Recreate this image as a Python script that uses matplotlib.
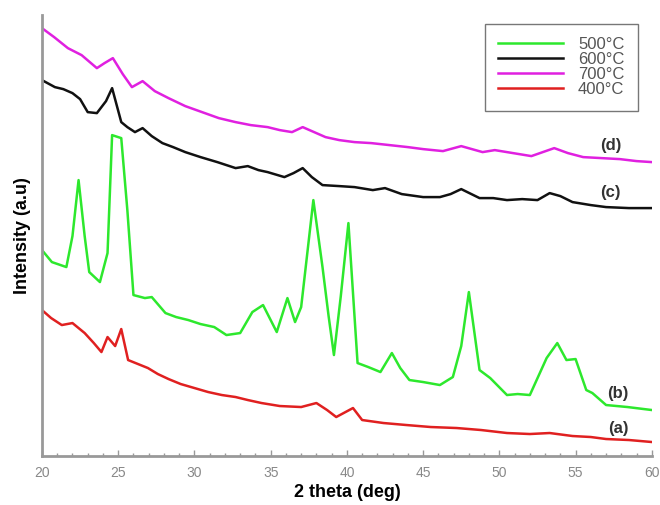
import matplotlib.pyplot as plt
import numpy as np

plt.rcParams['font.family'] = ['Liberation Sans', 'DejaVu Sans']

# 2-theta positions and intensities (arbitrary units)
x_700 = [20, 20.8, 21.7, 22.6, 23.6, 24.1, 24.65, 25.3, 25.9, 26.6, 27.4, 28.3, 29.4,
         30.5, 31.6, 32.7, 33.7, 34.8, 35.6, 36.4, 37.1, 38.6, 39.5, 40.5, 41.6,
         42.8, 44, 45, 46.3, 47.5, 48.9, 49.7, 50.5, 51.3, 52.1, 53.6, 54.5, 55.5,
         56.7, 57.9, 59, 60]
y_700 = [428, 419, 408, 401, 388, 393, 398, 382, 369, 375, 365, 358, 350,
         344, 338, 334, 331, 329, 326, 324, 329, 319, 316, 314, 313,
         311, 309, 307, 305, 310, 304, 306, 304, 302, 300, 308, 303, 299,
         298, 297, 295, 294]

x_600 = [20, 20.85, 21.4, 22, 22.5, 23, 23.6, 24.2, 24.6, 25.2, 25.6, 26.1, 26.6, 27.2,
         27.9, 28.6, 29.4, 30.4, 31.5, 32.7, 33.5, 34.2, 34.8, 35.9, 36.5, 37.1,
         37.7, 38.4, 39.5, 40.5, 41.7, 42.5, 43.6, 45, 46.1, 46.8, 47.5, 48.7,
         49.6, 50.5, 51.5, 52.5, 53.3, 54, 54.8, 56, 57, 58.5, 60]
y_600 = [376, 369, 367, 363, 357, 344, 343, 355, 368, 334, 329, 324, 328, 320,
         313, 309, 304, 299, 294, 288, 290, 286, 284, 279, 283, 288,
         279, 271, 270, 269, 266, 268, 262, 259, 259, 262, 267, 258,
         258, 256, 257, 256, 263, 260, 254, 251, 249, 248, 248]

x_500 = [20, 20.65, 21.6, 22.0, 22.4, 22.8, 23.1, 23.8, 24.3, 24.6, 25.2, 25.6, 26,
         26.75, 27.2, 28.1, 28.8, 29.6, 30.4, 31.3, 32.1, 33, 33.8, 34.5, 35.4,
         36.1, 36.6, 37.0, 37.8, 38.4, 38.8, 39.15, 39.6, 40.1, 40.7, 41.4, 42.2,
         42.95, 43.5, 44.1, 45, 46.1, 46.95, 47.5, 48.0, 48.7, 49.4, 50.5, 51.2,
         52, 53.1, 53.8, 54.4, 55, 55.7, 56.1, 57, 58.4, 60]
y_500 = [206, 194, 189, 220, 276, 220, 184, 174, 203, 321, 318, 246, 161,
         158, 159, 143, 139, 136, 132, 129, 121, 123, 144, 151, 124,
         158, 134, 149, 256, 189, 140, 101, 160, 233, 93, 89, 84,
         103, 88, 76, 74, 71, 79, 110, 164, 86, 78, 61, 62,
         61, 98, 113, 96, 97, 66, 63, 51, 49, 46]

x_400 = [20, 20.6, 21.3, 22, 22.8, 23.4, 23.9, 24.3, 24.8, 25.2, 25.65, 26.3, 26.95,
         27.6, 28.3, 29.1, 30, 30.9, 31.8, 32.7, 33.5, 34.4, 35.6, 37, 38, 38.7,
         39.3, 40.4, 41, 42.4, 43.9, 45.5, 47.2, 48.8, 50.5, 52, 53.3, 54.8, 56,
         57, 58.5, 60]
y_400 = [146, 138, 131, 133, 123, 113, 104, 119, 110, 127, 96, 92, 88,
         82, 77, 72, 68, 64, 61, 59, 56, 53, 50, 49, 53, 46,
         39, 48, 36, 33, 31, 29, 28, 26, 23, 22, 23, 20, 19,
         17, 16, 14]

series = [
    ('500°C', x_500, y_500, '#2de82d'),
    ('600°C', x_600, y_600, '#111111'),
    ('700°C', x_700, y_700, '#e020e0'),
    ('400°C', x_400, y_400, '#e02020'),
]

curve_labels = ['(b)', '(c)', '(d)', '(a)']
label_xy = [(57.8, 63), (57.3, 264), (57.3, 311), (57.8, 28)]

fig = plt.figure(figsize=(6.6, 5.05), dpi=100)
ax = fig.add_axes([0.0636, 0.097, 0.924, 0.873])

for name, xs, ys, col in series:
    ax.plot(xs, ys, color=col, lw=1.8, label=name)

for txt, (lx, ly) in zip(curve_labels, label_xy):
    ax.text(lx, ly, txt, fontsize=12, fontweight='bold', color='#333333',
            ha='center', va='center')

ax.set_xlim(20, 60)
ax.set_ylim(0, 441)
ax.set_xticks(np.arange(20, 61, 5))
ax.set_xticks(np.arange(20, 61, 1), minor=True)
ax.set_yticks([])
ax.tick_params(axis='x', which='both', direction='in', colors='#999999',
               labelcolor='#888888', labelsize=10, width=1, pad=7)
ax.tick_params(axis='x', which='major', length=4)
ax.tick_params(axis='x', which='minor', length=2)
for s in ['top', 'right']:
    ax.spines[s].set_visible(False)
for s in ['left', 'bottom']:
    ax.spines[s].set_color('#999999')
    ax.spines[s].set_linewidth(2)

ax.set_xlabel('2 theta (deg)', fontsize=13, fontweight='bold', labelpad=3)
ax.set_ylabel('Intensity (a.u)', fontsize=13, fontweight='bold', labelpad=8)

leg = ax.legend(loc='upper right', bbox_to_anchor=(0.977, 0.98), borderaxespad=0,
                fontsize=12, handlelength=3.9, labelspacing=0.0, borderpad=0.8,
                fancybox=False, edgecolor='#777777', framealpha=1, handletextpad=0.9)
leg.get_frame().set_linewidth(1)
for t in leg.get_texts():
    t.set_color('#555555')

fig.savefig('out.png', dpi=100)
